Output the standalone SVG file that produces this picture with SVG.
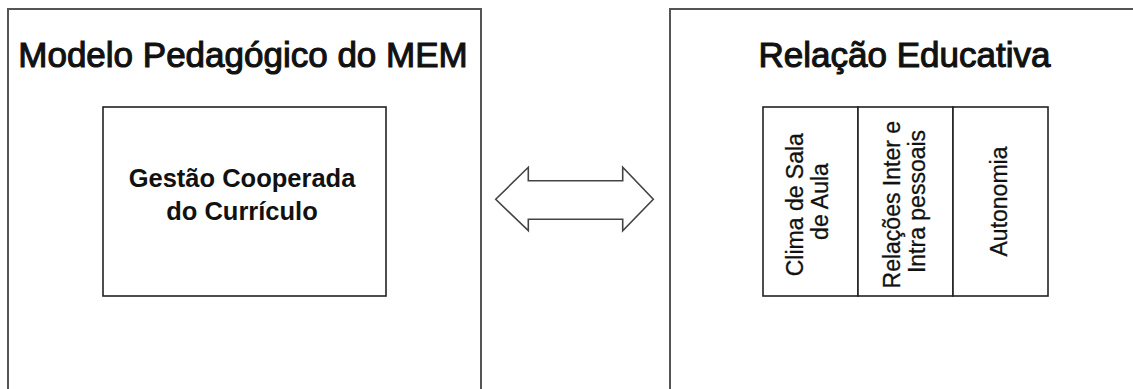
<svg xmlns="http://www.w3.org/2000/svg" width="1133" height="389" viewBox="0 0 1133 389">
  <style>
    .panel { fill: #ffffff; stroke: #555555; stroke-width: 2; }
    .box { fill: #ffffff; stroke: #222222; stroke-width: 1.6; }
    .title { font-family: "Liberation Sans", Arial, sans-serif; font-size: 35px; fill: #111111; text-anchor: middle; stroke: #111111; stroke-width: 1.1; }
    .label { font-family: "Liberation Sans", Arial, sans-serif; font-size: 25.5px; font-weight: bold; fill: #111111; text-anchor: middle; }
    .vlabel { font-family: "Liberation Sans", Arial, sans-serif; font-size: 23px; fill: #111111; text-anchor: middle; stroke: #111111; stroke-width: 0.3; }
    .arrow { fill: #ffffff; stroke: #444444; stroke-width: 1.6; stroke-linejoin: miter; }
  </style>
  <rect width="1133" height="389" fill="#ffffff"/>

  <!-- Left panel: pedagogical model -->
  <g id="modelo-mem">
    <rect class="panel" x="8" y="9" width="473" height="400"/>
    <text class="title" x="243" y="67">Modelo Pedagógico do MEM</text>
  </g>

  <g id="gestao-curriculo">
    <rect class="box" x="103" y="107" width="283" height="189"/>
    <text class="label" x="242" y="187">Gestão Cooperada</text>
    <text class="label" x="242" y="220">do Currículo</text>
  </g>

  <!-- Right panel: educational relationship -->
  <g id="relacao-educativa">
    <rect class="panel" x="670" y="9" width="480" height="400"/>
    <text class="title" x="904.5" y="67">Relação Educativa</text>
  </g>

  <g id="clima-sala">
    <rect class="box" x="763" y="107" width="95" height="189"/>
    <text class="vlabel" transform="translate(803,201.5) rotate(-90)">
      <tspan x="0" y="0">Clima de Sala</tspan>
      <tspan x="0" y="25">de Aula</tspan>
    </text>
  </g>

  <g id="relacoes">
    <rect class="box" x="858" y="107" width="95" height="189"/>
    <text class="vlabel" transform="translate(899.5,201.5) rotate(-90)">
      <tspan x="0" y="0">Relações Inter e</tspan>
      <tspan x="0" y="25">Intra pessoais</tspan>
    </text>
  </g>

  <g id="autonomia">
    <rect class="box" x="953" y="107" width="95" height="189"/>
    <text class="vlabel" transform="translate(1007,201.5) rotate(-90)">Autonomia</text>
  </g>

  <!-- Two-way relation between the panels -->
  <g id="connectors">
    <path class="arrow" d="M495.7,199.3 L528.3,167.3 L528.3,180.7 L622.7,180.7 L622.7,167.3 L653.3,199.3 L622.7,230.7 L622.7,219.3 L528.3,219.3 L528.3,230.7 Z"/>
  </g>
</svg>
